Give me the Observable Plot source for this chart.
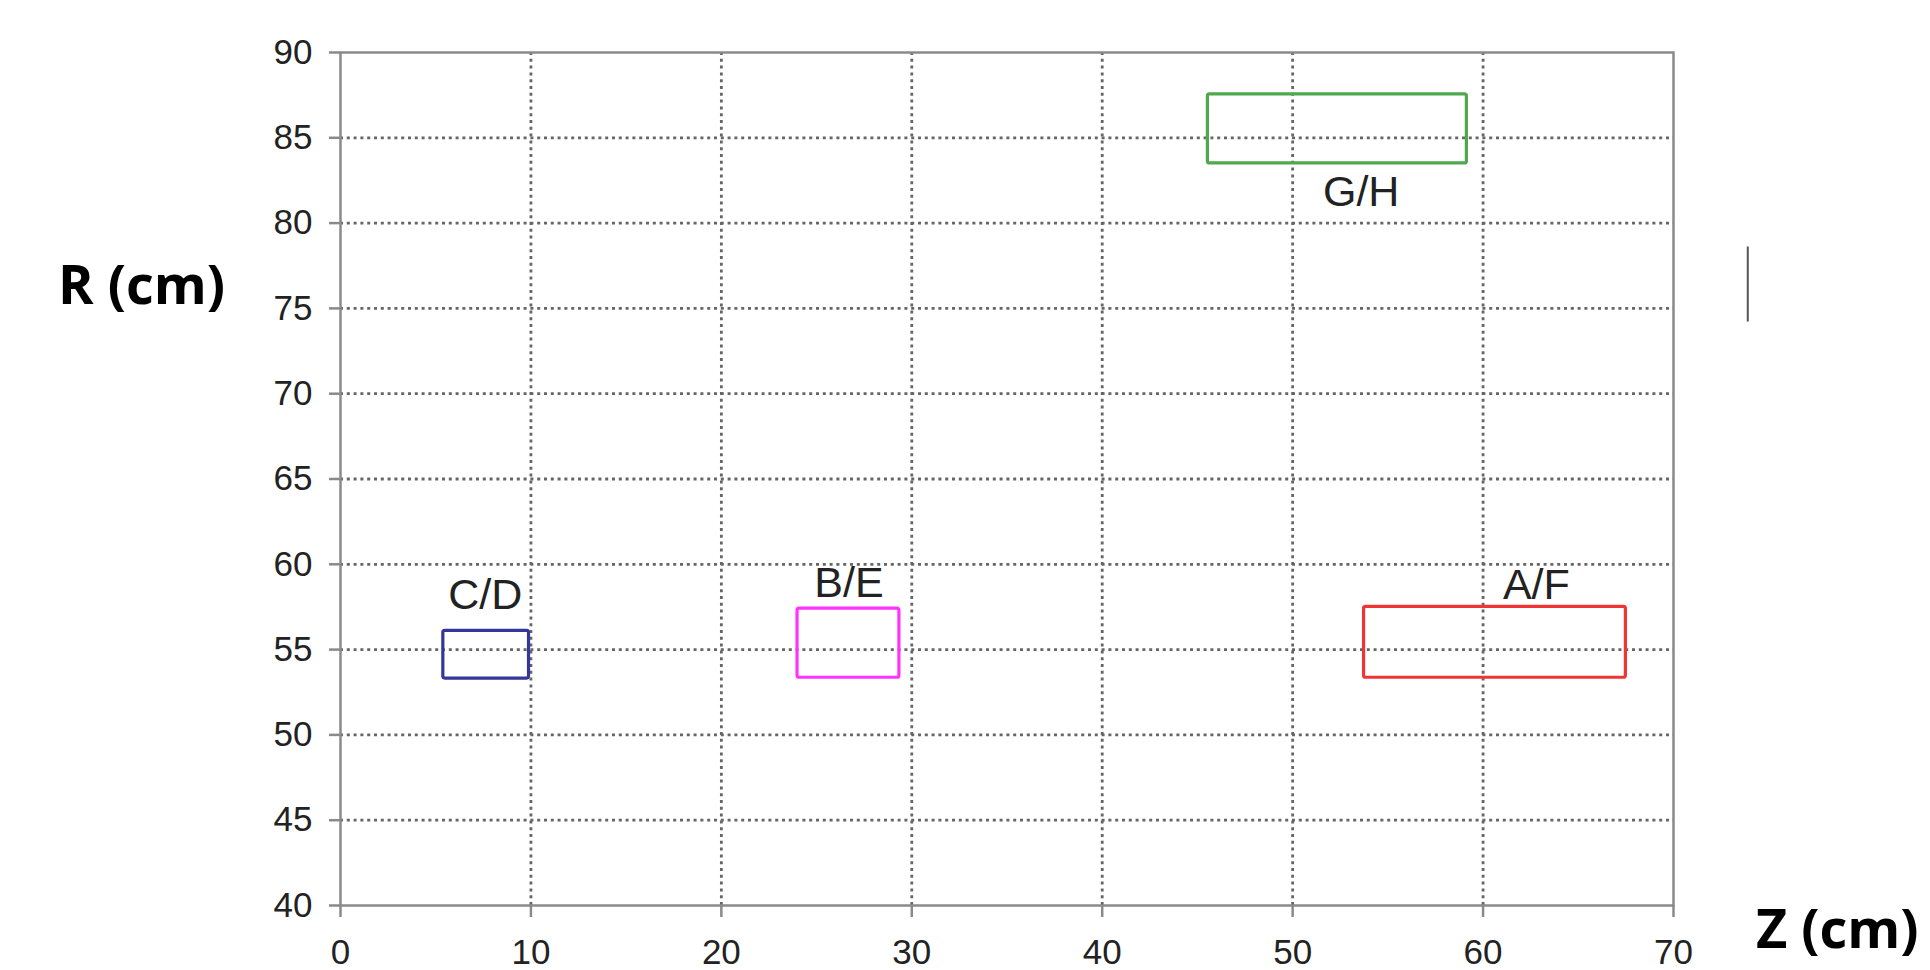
<!DOCTYPE html>
<html>
<head>
<meta charset="utf-8">
<script src="https://cdn.jsdelivr.net/npm/d3@7"></script>
<script src="https://cdn.jsdelivr.net/npm/@observablehq/plot@0.6"></script>
<style>
  html, body { margin: 0; padding: 0; background: #fff; overflow: hidden; }
  #chart svg { display: block; }
</style>
</head>
<body>
<div id="chart"></div>
<script>
// ---- data ----
const boxLabels = ["C/D", "B/E", "A/F", "G/H"];
const zStart = [5.4, 24.0, 53.75, 45.55];
const zEnd = [9.9, 29.35, 67.5, 59.15];
const rStart = [53.3, 53.35, 53.35, 83.5];
const rEnd = [56.1, 57.4, 57.5, 87.55];
const boxColors = ["#35369c", "#ff33ff", "#ee3636", "#4ea84e"];
const labelZ = [7.6, 26.7, 62.8, 53.6];
const labelR = [58.2, 58.9, 58.8, 81.8];

const zTicks = [0, 10, 20, 30, 40, 50, 60, 70];
const rTicks = [40, 45, 50, 55, 60, 65, 70, 75, 80, 85, 90];

const axisTitles = ["R (cm)", "Z (cm)"];
const axisTitleZ = [-10.45, 78.6];
const axisTitleR = [76.3, 38.5];

// small stray mark at right edge of the original image
const strayZ = [73.9];
const strayR1 = [74.2];
const strayR2 = [78.6];

// ---- tables ----
const boxes = boxLabels.map((l, i) => ({
  label: l, z1: zStart[i], z2: zEnd[i], r1: rStart[i], r2: rEnd[i],
  color: boxColors[i], lz: labelZ[i], lr: labelR[i]
}));
const titles = axisTitles.map((t, i) => ({t, z: axisTitleZ[i], r: axisTitleR[i]}));
const stray = strayZ.map((z, i) => ({z, r1: strayR1[i], r2: strayR2[i]}));

const innerZ = zTicks.slice(1, -1);
const innerR = rTicks.slice(1, -1);

const chart = Plot.plot({
  width: 1930,
  height: 970,
  marginLeft: 340,
  marginRight: 257,
  marginTop: 52,
  marginBottom: 65,
  style: {fontFamily: "'Liberation Sans', Arial, sans-serif", background: "#fff"},
  x: {domain: [0, 70]},
  y: {domain: [40, 90]},
  marks: [
    Plot.gridX(innerZ, {stroke: "#666", strokeOpacity: 1, strokeWidth: 2.8, strokeDasharray: "3,3.8"}),
    Plot.gridY(innerR, {stroke: "#666", strokeOpacity: 1, strokeWidth: 2.8, strokeDasharray: "3,3.8"}),
    Plot.frame({stroke: "#8a8a8a", strokeWidth: 2.5}),
    Plot.axisX(zTicks, {
      tickSize: 12, tickPadding: 22, stroke: "#8a8a8a", strokeWidth: 2.5,
      fontSize: 35, fill: "#222", label: null, tickFormat: d => String(d)
    }),
    Plot.axisY(rTicks, {
      tickSize: 11, tickPadding: 17, stroke: "#8a8a8a", strokeWidth: 2.5,
      fontSize: 35, fill: "#222", label: null, tickFormat: d => String(d)
    }),
    Plot.rect(boxes, {
      x1: "z1", x2: "z2", y1: "r1", y2: "r2",
      stroke: "color", fill: "none", strokeWidth: 3.2, rx: 2
    }),
    Plot.text(boxes, {
      x: "lz", y: "lr", text: "label", fontSize: 43, fill: "#222",
      textAnchor: "middle", lineAnchor: "middle"
    }),
    Plot.text(titles, {
      x: "z", y: "r", text: "t", fontSize: 54, fontWeight: "bold",
      fontFamily: "'Open Sans', Lato, sans-serif", fill: "#000",
      textAnchor: "middle", lineAnchor: "middle"
    }),
    Plot.ruleX(stray, {x: "z", y1: "r1", y2: "r2", stroke: "#555", strokeWidth: 2})
  ]
});
document.getElementById("chart").appendChild(chart);
</script>
</body>
</html>
